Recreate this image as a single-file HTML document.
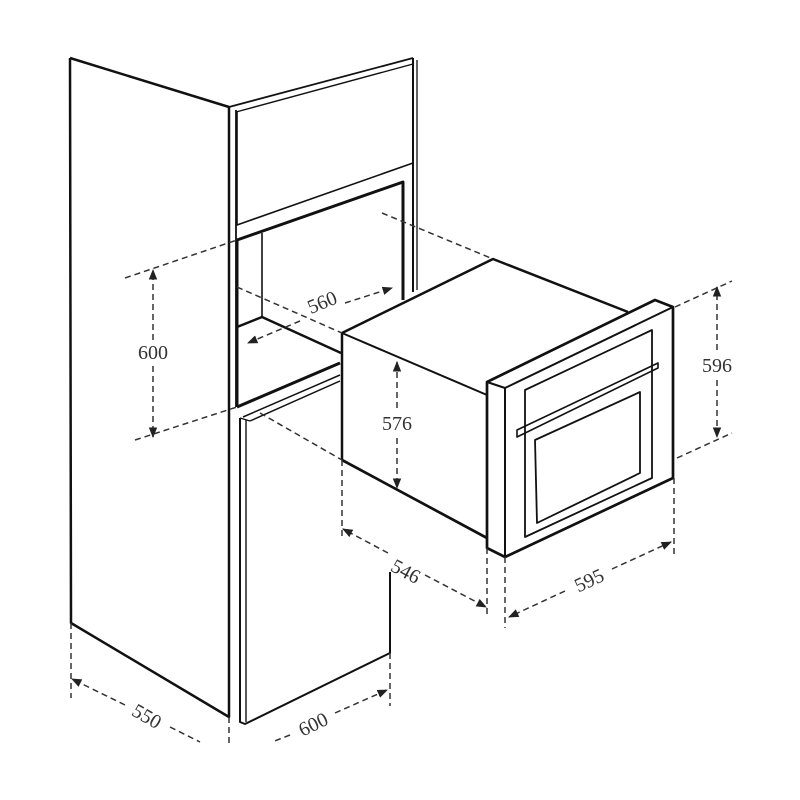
<!DOCTYPE html>
<html><head><meta charset="utf-8"><style>
html,body{margin:0;padding:0;background:#fff;width:800px;height:800px;overflow:hidden}
svg{display:block}
text{font-family:"Liberation Serif",serif;font-size:20px;fill:#333}
</style></head><body>
<svg width="800" height="800" viewBox="0 0 800 800">
<defs>
<marker id="a" viewBox="0 0 10 10" refX="9" refY="5" markerWidth="7" markerHeight="7" orient="auto-start-reverse"><path d="M0,1 L10,5 L0,9 z" fill="#222"/></marker>
</defs>
<g fill="none" stroke="#111" stroke-width="2.5" stroke-linejoin="round">
<polyline points="70,58 229,107 229,717 71,623 70,58"/>
<line x1="236" y1="110" x2="236" y2="407" stroke-width="1.8"/>
<line x1="229" y1="107" x2="413" y2="58" stroke-width="1.8"/>
<line x1="236" y1="112" x2="413" y2="64" stroke-width="1.4"/>
<line x1="413" y1="58" x2="413" y2="292" stroke-width="2"/>
<line x1="417" y1="60" x2="417" y2="290" stroke-width="1.3"/>
<polyline points="237,112 237,225 413,163" stroke-width="1.6"/>
<polyline points="237,407 237,240 403,182 403,300" stroke-width="3"/>
<line x1="237" y1="407" x2="340" y2="363" stroke-width="3"/>
<line x1="262" y1="233" x2="262" y2="317" stroke-width="1.6"/>
<polyline points="237,327 262,317 341,353" stroke-width="2.4"/>
<polyline points="243,417 340,375" stroke-width="1.5"/>
<polyline points="250,421 340,381" stroke-width="1.5"/>
<polyline points="240,418 240,722 245,724 390,653 390,572" stroke-width="2"/>
<line x1="246" y1="420" x2="246" y2="722" stroke-width="1.4"/>
<line x1="240" y1="418" x2="250" y2="421" stroke-width="1.4"/>
<polyline points="342,460 342,333 493,259 628,312" stroke-width="2.5"/>
<line x1="342" y1="333" x2="487" y2="395" stroke-width="2"/>
<line x1="342" y1="460" x2="487" y2="538" stroke-width="2.7"/>
<polygon points="487,382 655,300 673,307 673,478 505,557 487,548" stroke-width="2.7"/>
<polyline points="487,382 505,388 673,307" stroke-width="2"/>
<line x1="505" y1="388" x2="505" y2="557" stroke-width="2"/>
<polygon points="525,390 652,330 652,478 525,537" stroke-width="1.8"/>
<polygon points="517,430 658,363 658,368 517,437" stroke-width="1.6"/>
<polygon points="535,440 640,392 640,473 537,523" stroke-width="1.8"/>
</g>
<g fill="none" stroke="#333" stroke-width="1.5" stroke-dasharray="6,4">
<line x1="125" y1="278" x2="237" y2="240"/>
<line x1="135" y1="440" x2="237" y2="407"/>
<line x1="153" y1="340" x2="153" y2="270" marker-end="url(#a)"/>
<line x1="153" y1="366" x2="153" y2="437" marker-end="url(#a)"/>
<line x1="300" y1="321" x2="248" y2="343" marker-end="url(#a)"/>
<line x1="345" y1="303" x2="392" y2="288" marker-end="url(#a)"/>
<line x1="237" y1="287" x2="342" y2="333"/>
<line x1="382" y1="213" x2="493" y2="259"/>
<line x1="260" y1="413" x2="342" y2="460"/>
<line x1="397" y1="408" x2="397" y2="362" marker-end="url(#a)"/>
<line x1="397" y1="438" x2="397" y2="488" marker-end="url(#a)"/>
<line x1="342" y1="460" x2="342" y2="540"/>
<line x1="487" y1="548" x2="487" y2="615"/>
<line x1="388" y1="553" x2="343" y2="529" marker-end="url(#a)"/>
<line x1="425" y1="575" x2="486" y2="607" marker-end="url(#a)"/>
<line x1="505" y1="557" x2="505" y2="628"/>
<line x1="674" y1="478" x2="674" y2="556"/>
<line x1="565" y1="591" x2="509" y2="617" marker-end="url(#a)"/>
<line x1="612" y1="569" x2="671" y2="542" marker-end="url(#a)"/>
<line x1="675" y1="307" x2="732" y2="281"/>
<line x1="677" y1="458" x2="732" y2="433"/>
<line x1="717" y1="350" x2="717" y2="287" marker-end="url(#a)"/>
<line x1="717" y1="380" x2="717" y2="437" marker-end="url(#a)"/>
<line x1="71" y1="623" x2="71" y2="698"/>
<line x1="229" y1="717" x2="229" y2="745"/>
<line x1="125" y1="705" x2="72" y2="679" marker-end="url(#a)"/>
<line x1="170" y1="727" x2="200" y2="742"/>
<line x1="390" y1="653" x2="390" y2="706"/>
<line x1="335" y1="713" x2="387" y2="690" marker-end="url(#a)"/>
<line x1="290" y1="735" x2="272" y2="742"/>
</g>
<g text-anchor="middle">
<text x="153" y="359">600</text>
<text x="322" y="309" transform="rotate(-22 322 302)">560</text>
<text x="397" y="430">576</text>
<text x="406" y="578" transform="rotate(28 406 571)">546</text>
<text x="589" y="587" transform="rotate(-25 589 580)">595</text>
<text x="717" y="372">596</text>
<text x="147" y="723" transform="rotate(30 147 716)">550</text>
<text x="313" y="731" transform="rotate(-26 313 724)">600</text>
</g>
</svg>
</body></html>
